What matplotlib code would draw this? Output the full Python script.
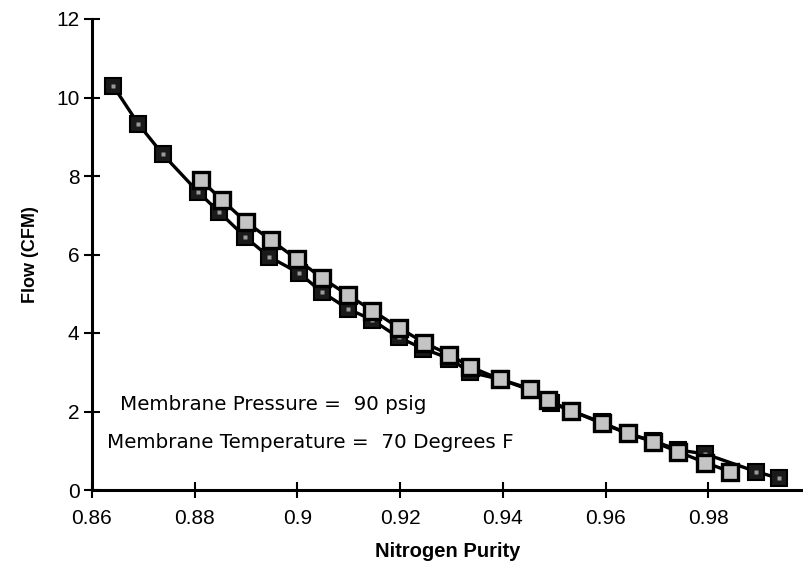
import matplotlib
matplotlib.use("Agg")
import matplotlib.pyplot as plt

# dark series (black squares)
dark_purity = [0.8641, 0.8690, 0.8738, 0.8806, 0.8847, 0.8898, 0.8945, 0.9003,
               0.9047, 0.9098, 0.9146, 0.9197, 0.9245, 0.9296, 0.9336, 0.9395,
               0.9453, 0.9494, 0.9533, 0.9593, 0.9643, 0.9693, 0.9742, 0.9794,
               0.9893, 0.9937]
dark_flow = [10.30, 9.33, 8.55, 7.60, 7.09, 6.45, 5.94, 5.53,
             5.05, 4.62, 4.33, 3.89, 3.60, 3.35, 3.00, 2.82,
             2.55, 2.22, 2.02, 1.72, 1.44, 1.25, 1.02, 0.92,
             0.47, 0.30]

# light series (gray squares)
light_purity = [0.8812, 0.8853, 0.8899, 0.8948, 0.8999, 0.9047, 0.9098, 0.9146,
                0.9197, 0.9247, 0.9296, 0.9336, 0.9395, 0.9453, 0.9488, 0.9533,
                0.9593, 0.9643, 0.9693, 0.9742, 0.9794, 0.9842]
light_flow = [7.90, 7.39, 6.84, 6.37, 5.88, 5.41, 4.97, 4.57,
              4.14, 3.75, 3.45, 3.14, 2.82, 2.58, 2.29, 2.02,
              1.70, 1.44, 1.23, 0.97, 0.70, 0.47]

x_ticks = [0.86, 0.88, 0.90, 0.92, 0.94, 0.96, 0.98]
x_tick_labels = ["0.86", "0.88", "0.9", "0.92", "0.94", "0.96", "0.98"]
y_ticks = [0, 2, 4, 6, 8, 10, 12]

notes = ["Membrane Pressure =  90 psig",
         "Membrane Temperature =  70 Degrees F"]

plt.rcParams["font.family"] = ["Liberation Sans", "DejaVu Sans"]

fig = plt.figure(figsize=(8.04, 5.77), dpi=100)
ax = fig.add_axes([92 / 804, 87 / 577, 1 - 92 / 804, 471 / 577])

ax.plot(dark_purity, dark_flow, color="black", lw=2.4, marker="s", ms=11,
        mfc="#1a1a1a", mec="black", mew=1.5, zorder=3)
ax.plot(dark_purity, dark_flow, ls="none", marker="s", ms=3.5,
        mfc="#9a9a9a", mec="none", zorder=3.1)
ax.plot(light_purity, light_flow, color="black", lw=2.4, marker="s", ms=11,
        mfc="#c4c4c4", mec="black", mew=2.4, zorder=4)

ax.set_xlim(0.86, 0.86 + 712 / 102.7 * 0.02)
ax.set_ylim(0, 12)
ax.set_xticks(x_ticks)
ax.set_xticklabels(x_tick_labels)
ax.set_yticks(y_ticks)

for side in ["top", "right"]:
    ax.spines[side].set_visible(False)
for side in ["left", "bottom"]:
    ax.spines[side].set_linewidth(2.2)
ax.tick_params(direction="inout", length=12, width=1.5, labelsize=15,
               pad=3)
ax.tick_params(axis="x", pad=8)
ax.spines["left"].set_clip_on(False)
ax.spines["bottom"].set_clip_on(False)

ax.set_xlabel("Nitrogen Purity", fontsize=14.5, fontweight="bold", labelpad=10)
ax.set_ylabel("Flow (CFM)", fontsize=13, fontweight="bold", labelpad=12)

ax.text(0.8655, 2.17, notes[0], fontsize=14.3, family="DejaVu Sans",
        va="center", ha="left")
ax.text(0.8630, 1.20, notes[1], fontsize=14.3, family="DejaVu Sans",
        va="center", ha="left")

fig.savefig("out.png", dpi=100)
